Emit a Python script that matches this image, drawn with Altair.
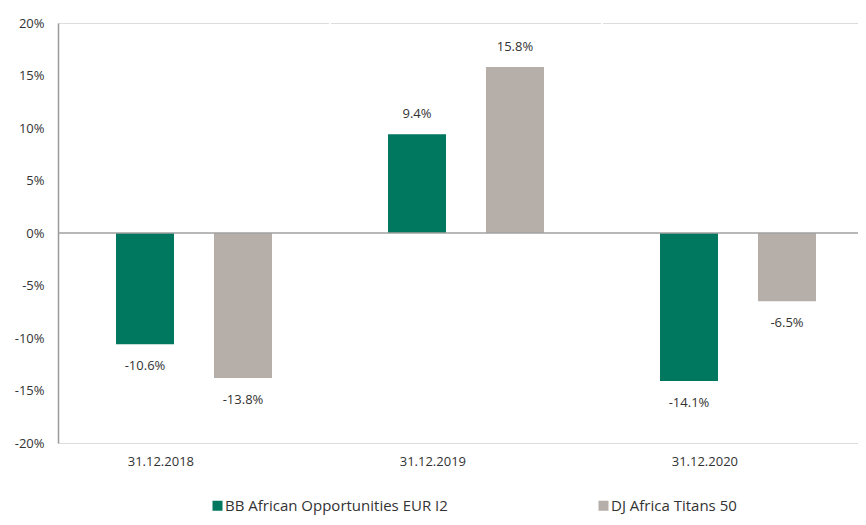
import altair as alt
import pandas as pd

dates = ["31.12.2018", "31.12.2019", "31.12.2020"]
series_names = ["BB African Opportunities EUR I2", "DJ Africa Titans 50"]
fund_values = [-10.6, 9.4, -14.1]
index_values = [-13.8, 15.8, -6.5]
colors = ["#00775F", "#B6AEA9"]

rows = []
for d, f, i in zip(dates, fund_values, index_values):
    rows.append({"date": d, "series": series_names[0], "value": f})
    rows.append({"date": d, "series": series_names[1], "value": i})
df = pd.DataFrame(rows)
df["label"] = df["value"].map(lambda v: f"{v:.1f}%")

sep_df = pd.DataFrame({"date": dates[1:]})
zero_df = pd.DataFrame({"y": [0]})

FONT = "Open Sans"
X_RANGE = [0, 816]

x_scale = alt.Scale(paddingInner=0, paddingOuter=0, range=X_RANGE)
x_enc = alt.X("date:N", sort=dates, title=None, scale=x_scale,
              axis=alt.Axis(domain=False, ticks=False, labelPadding=18,
                            labelFontSize=13, labelColor="#333333", labelAngle=0))
xoff_enc = alt.XOffset("series:N", sort=series_names,
                       scale=alt.Scale(paddingInner=0.408, paddingOuter=0.592))
y_scale = alt.Scale(domain=[-20, 20], nice=False)

bars = alt.Chart(df).mark_bar().encode(
    x=x_enc,
    xOffset=xoff_enc,
    y=alt.Y("value:Q", scale=y_scale, title=None,
            axis=alt.Axis(values=[-20, -15, -10, -5, 0, 5, 10, 15, 20],
                          labelExpr="datum.value + '%'", grid=False, ticks=False,
                          domain=True, domainColor="#9a9a9a", domainWidth=1.5,
                          labelPadding=14, labelFontSize=13, labelColor="#333333")),
    color=alt.Color("series:N", sort=series_names,
                    scale=alt.Scale(domain=series_names, range=colors),
                    legend=alt.Legend(orient="none", legendX=152, legendY=475,
                                      direction="horizontal", title=None,
                                      symbolType="square", symbolSize=100,
                                      symbolStrokeWidth=0, labelFontSize=15,
                                      labelColor="#333333", labelOffset=0,
                                      labelLimit=400, columnPadding=148)),
)

pos_labels = alt.Chart(df).transform_filter("datum.value >= 0").mark_text(
    dy=-20, fontSize=13, color="#333333", baseline="middle"
).encode(x=alt.X("date:N", sort=dates), xOffset=alt.XOffset("series:N", sort=series_names),
         y=alt.Y("value:Q", scale=y_scale), text="label:N")

neg_labels = alt.Chart(df).transform_filter("datum.value < 0").mark_text(
    dy=22, fontSize=13, color="#333333", baseline="middle"
).encode(x=alt.X("date:N", sort=dates), xOffset=alt.XOffset("series:N", sort=series_names),
         y=alt.Y("value:Q", scale=y_scale), text="label:N")

seps = alt.Chart(sep_df).mark_rule(color="#ffffff", strokeWidth=2).encode(
    x=alt.X("date:N", sort=dates, bandPosition=0),
    y=alt.value(0),
    y2=alt.value(420),
)

zero = alt.Chart(zero_df).mark_rule(color="#a0a0a0", strokeWidth=1.5).encode(
    y=alt.Y("y:Q", scale=y_scale)
)

chart = alt.layer(seps, bars, zero, pos_labels, neg_labels).properties(
    width=800, height=420,
    autosize=alt.AutoSizeParams(type="none"),
    padding={"left": 50, "top": 15, "right": 0, "bottom": 74},
).configure_view(fill="#ECEAE6", stroke=None).configure(font=FONT)

chart.save("out.html", embed_options={"renderer": "svg", "actions": False})
